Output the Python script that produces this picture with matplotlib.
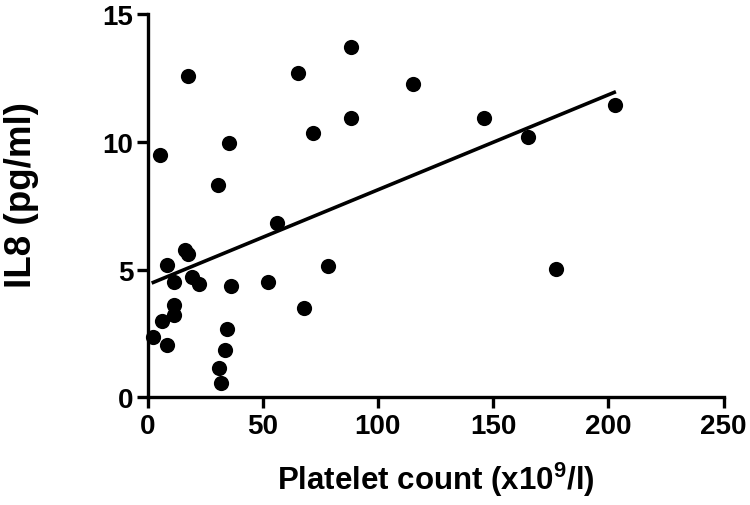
import matplotlib
matplotlib.use("Agg")
import matplotlib.pyplot as plt
import numpy as np

platelet = [17.4, 5.5, 35.2, 30.4, 56.1, 16.4, 17.7, 8.3, 19.3, 22.4, 11.3, 36.2,
            52.1, 78.3, 67.9, 11.3, 11.3, 6.3, 2.3, 8.3, 34.3, 33.7, 31.1, 32.1,
            65.3, 88.2, 88.2, 72.0, 115.2, 146.2, 165.2, 203.0, 177.1]
il8 = [12.56, 9.48, 9.94, 8.31, 6.82, 5.78, 5.61, 5.19, 4.69, 4.43, 4.50, 4.34,
       4.52, 5.15, 3.48, 3.61, 3.23, 3.00, 2.35, 2.06, 2.67, 1.86, 1.15, 0.56,
       12.71, 13.69, 10.92, 10.33, 12.28, 10.92, 10.17, 11.45, 5.02]
fit_x = [1.8, 203.3]
fit_y = [4.47, 11.96]
xticks = [0, 50, 100, 150, 200, 250]
yticks = [0, 5, 10, 15]

plt.rcParams['font.family'] = ['Liberation Sans', 'DejaVu Sans']
plt.rcParams['mathtext.fontset'] = 'custom'
plt.rcParams['mathtext.rm'] = 'Liberation Sans:bold'
plt.rcParams['mathtext.bf'] = 'Liberation Sans:bold'
fig = plt.figure(figsize=(7.5, 5.06), dpi=100)
x0, x1 = 147.5 / 750, 723.5 / 750
y0, y1 = 1 - 398.3 / 506, 1 - 15 / 506
ax = fig.add_axes([x0, y0, x1 - x0, y1 - y0])

ax.scatter(platelet, il8, s=120, color='black', zorder=3, clip_on=False, linewidths=0)
ax.plot(fit_x, fit_y, color='black', lw=2.6, solid_capstyle='butt')

ax.set_xlim(0, 250)
ax.set_ylim(0, 15)
ax.set_xticks(xticks)
ax.set_yticks(yticks)
for s in ['top', 'right']:
    ax.spines[s].set_visible(False)
for s in ['left', 'bottom']:
    ax.spines[s].set_linewidth(2.4)
ax.tick_params(direction='out', length=8, width=2.4, labelsize=20)
ax.tick_params(axis='x', pad=3.6)
ax.tick_params(axis='y', pad=2)
for lab in ax.get_xticklabels() + ax.get_yticklabels():
    lab.set_fontweight('bold')
ax.set_xlabel('Platelet count (x10$^{9}$/l)', fontsize=22.5, fontweight='bold')
ax.set_ylabel('IL8 (pg/ml)', fontsize=26.5, fontweight='bold')
ax.xaxis.set_label_coords(0.5, (398.3 - 461) / 383.3)
ax.xaxis.label.set_va('top')
ax.yaxis.set_label_coords((39 - 147.5) / 576, (398.3 - 195) / 383.3)

fig.savefig('out.png', dpi=100)
